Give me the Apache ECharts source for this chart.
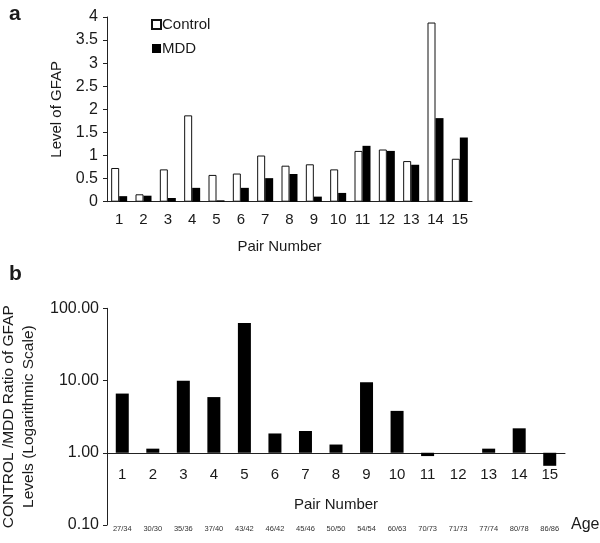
<!DOCTYPE html>
<html>
<head>
<meta charset="utf-8">
<script src="https://cdn.jsdelivr.net/npm/echarts@6/dist/echarts.min.js"></script>
<style>html,body{margin:0;padding:0;background:#fff}#c{width:600px;height:543px}</style>
</head>
<body>
<div id="c"></div>
<script>
var pairs = ['1','2','3','4','5','6','7','8','9','10','11','12','13','14','15'];
var controlLevels = [0.73,0.16,0.70,1.87,0.58,0.61,1.00,0.78,0.81,0.70,1.10,1.13,0.88,3.88,0.93];
var mddLevels = [0.12,0.13,0.08,0.30,0.03,0.30,0.51,0.60,0.11,0.19,1.21,1.10,0.80,1.81,1.39];
var ratios = [6.6,1.14,9.9,5.9,62.7,1.85,2.0,1.30,9.5,3.8,0.90,1.0,1.14,2.18,0.66];
var ages = ['27/34','30/30','35/36','37/40','43/42','46/42','45/46','50/50','54/54','60/63','70/73','71/73','77/74','80/78','86/86'];
var yTicksTop = [0,0.5,1,1.5,2,2.5,3,3.5,4];

var FF = 'Liberation Sans, Arial, sans-serif';
var TXT = '#1a1a1a';
var chart = echarts.init(document.getElementById('c'));
var axisLineStyle = {lineStyle:{color:'#222', width:1}};
// log10 transform so that bars grow from ratio 1.00 (log 0), as on the original
var logRatios = ratios.map(function(r){return Math.log10(r);});
var bTop = 308.3, bH = 216.7;
var zeroH = bH * 2 / 3; // distance from 100.00 down to 1.00
function g(o){o.outerBoundsMode='none'; o.containLabel=false; return o;}
chart.setOption({
  animation:false,
  textStyle:{fontFamily:FF},
  graphic:[
    {type:'text', left:9, top:4, style:{text:'a', fontSize:21, fontWeight:'bold', fill:TXT, fontFamily:FF}},
    {type:'text', left:9, top:264, style:{text:'b', fontSize:21, fontWeight:'bold', fill:TXT, fontFamily:FF}}
  ],
  legend:{
    left:146, top:12, orient:'vertical', itemWidth:9, itemHeight:9, itemGap:9,
    icon:'rect',
    textStyle:{fontSize:15, color:TXT, fontFamily:FF, padding:[0,0,0,-4]},
    data:['Control','MDD']
  },
  grid:[
    g({left:107, right:128, top:17, height:184.7}),
    g({left:107, right:35, top:bTop, height:bH}),
    g({left:107, right:35, top:bTop, height:bH}),
    g({left:107, right:35, top:bTop, height:zeroH})
  ],
  xAxis:[
    {type:'category', gridIndex:0, data:pairs,
     axisLine:axisLineStyle, axisTick:{length:4, lineStyle:{color:'#222'}},
     axisLabel:{fontSize:15, color:TXT, margin:11, interval:0},
     name:'Pair Number', nameLocation:'middle', nameGap:38,
     nameTextStyle:{fontSize:15, color:TXT, padding:[0,20,0,0]}},
    {type:'category', gridIndex:1, data:pairs, show:false},
    {type:'category', gridIndex:2, data:ages, position:'bottom',
     axisLine:{show:false, onZero:false}, axisTick:{show:false},
     axisLabel:{fontSize:7.5, color:'#333', margin:0, interval:0},
     name:'Age', nameLocation:'end', nameGap:6,
     nameTextStyle:{fontSize:16, color:TXT, verticalAlign:'middle', padding:[6,0,0,0]}},
    {type:'category', gridIndex:3, data:pairs, position:'bottom',
     axisLine:{onZero:false, lineStyle:{color:'#222'}}, axisTick:{length:4, lineStyle:{color:'#222'}},
     axisLabel:{fontSize:15, color:TXT, margin:15, interval:0},
     name:'Pair Number', nameLocation:'middle', nameGap:45,
     nameTextStyle:{fontSize:15, color:TXT}}
  ],
  yAxis:[
    {type:'value', gridIndex:0, min:0, max:4, interval:0.5,
     splitLine:{show:false},
     axisLine:{show:true, lineStyle:{color:'#222'}}, axisTick:{show:true, length:4, lineStyle:{color:'#222'}},
     axisLabel:{fontSize:16, color:TXT, margin:9,
       formatter:function(v){return yTicksTop.indexOf(v)>=0 ? String(v) : '';}},
     name:'Level of GFAP', nameLocation:'middle', nameGap:35, nameRotate:90,
     nameTextStyle:{fontSize:15, color:TXT}},
    {type:'value', gridIndex:1, min:-1, max:2, interval:1,
     splitLine:{show:false},
     axisLine:{show:true, onZero:false, lineStyle:{color:'#222'}}, axisTick:{show:true, length:4, lineStyle:{color:'#222'}},
     axisLabel:{fontSize:16, color:TXT, margin:8, formatter:function(v){return Math.pow(10, v).toFixed(2);}},
     name:'CONTROL /MDD Ratio of GFAP\nLevels (Logarithmic Scale)', nameLocation:'middle', nameGap:58, nameRotate:90,
     nameTextStyle:{fontSize:15.5, color:TXT, lineHeight:20}},
    {type:'value', gridIndex:2, min:-1, max:2, show:false},
    {type:'value', gridIndex:3, min:0, max:2, show:false}
  ],
  series:[
    {name:'Control', type:'bar', xAxisIndex:0, yAxisIndex:0, data:controlLevels,
     barWidth:8, barGap:'0%',
     itemStyle:{color:'#fff', borderColor:'#111', borderWidth:1}},
    {name:'MDD', type:'bar', xAxisIndex:0, yAxisIndex:0, data:mddLevels,
     barWidth:8, barGap:'0%',
     itemStyle:{color:'#000'}},
    {name:'Ratio', type:'bar', xAxisIndex:1, yAxisIndex:1, data:logRatios,
     barWidth:13, itemStyle:{color:'#000'}}
  ]
});
</script>
</body>
</html>
